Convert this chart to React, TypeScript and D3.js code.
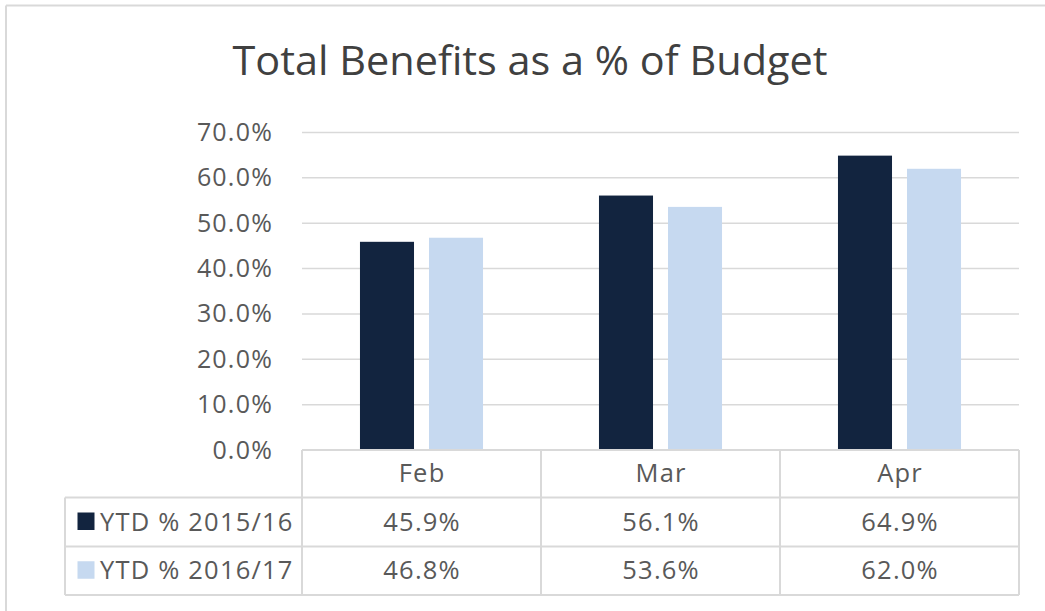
import React from "react";
import * as d3 from "d3";

const categories = ["Feb", "Mar", "Apr"];
const seriesNames = ["YTD % 2015/16", "YTD % 2016/17"];
const ytd2015 = [45.9, 56.1, 64.9];
const ytd2016 = [46.8, 53.6, 62.0];
const yTicks = [0, 10, 20, 30, 40, 50, 60, 70];
const seriesColors = ["#12243F", "#C6D9F0"];

const W = 1045;
const H = 611;
const FONT = "'Open Sans', 'Noto Sans', sans-serif";

export default function App() {
  const seriesValues = [ytd2015, ytd2016];
  const x0 = d3.scaleBand<string>().domain(categories).range([302, 1019]);
  const x1 = d3
    .scaleBand<string>()
    .domain(seriesNames)
    .range([0, x0.bandwidth()])
    .paddingInner(0.217)
    .paddingOuter(0.84);
  const y = d3.scaleLinear().domain([0, 70]).range([450, 132.5]);
  const fmt = (v: number) => v.toFixed(1) + "%";

  const tableLeft = 65;
  const tableRight = 1019;
  const rowTop = [450, 497.5, 546.5, 595];
  const grid = "#D9D9D9";
  const textColor = "#595959";
  const tableFont = 25.5;
  const ls = 1.2;

  return (
    <svg
      width={W}
      height={H}
      style={{ position: "absolute", left: 0, top: 0, background: "#fff" }}
      fontFamily={FONT}
    >
      <rect x={0} y={0} width={W} height={H} fill="#fff" />
      {/* outer chart border */}
      <line x1={6} y1={5.5} x2={W + 5} y2={5.5} stroke={grid} strokeWidth={2} />
      <line x1={6} y1={5.5} x2={6} y2={H + 5} stroke={grid} strokeWidth={2} />

      {/* title */}
      <text
        x={530}
        y={75}
        textAnchor="middle"
        fontSize={40}
        fill="#404040"
        textLength={595}
        lengthAdjust="spacingAndGlyphs"
      >
        Total Benefits as a % of Budget
      </text>

      {/* gridlines */}
      {yTicks.map((t) =>
        t === 0 ? null : (
          <line
            key={"g" + t}
            x1={302}
            x2={1019}
            y1={y(t)}
            y2={y(t)}
            stroke={grid}
            strokeWidth={1.5}
          />
        )
      )}
      {/* y labels */}
      {yTicks.map((t) => (
        <text
          key={"yl" + t}
          x={273}
          y={y(t) + 8.5}
          textAnchor="end"
          fontSize={25}
          letterSpacing={ls}
          fill={textColor}
        >
          {fmt(t)}
        </text>
      ))}

      {/* bars */}
      {categories.map((c, i) =>
        seriesNames.map((s, j) => (
          <rect
            key={c + s}
            x={(x0(c) ?? 0) + (x1(s) ?? 0)}
            y={y(seriesValues[j][i])}
            width={x1.bandwidth()}
            height={y(0) - y(seriesValues[j][i])}
            fill={seriesColors[j]}
          />
        ))
      )}

      {/* data table lines */}
      <line x1={302} x2={tableRight} y1={rowTop[0]} y2={rowTop[0]} stroke={grid} strokeWidth={2} />
      {rowTop.slice(1).map((ry, k) => (
        <line key={"r" + k} x1={tableLeft} x2={tableRight} y1={ry} y2={ry} stroke={grid} strokeWidth={2} />
      ))}
      <line x1={tableLeft} x2={tableLeft} y1={rowTop[1]} y2={rowTop[3]} stroke={grid} strokeWidth={2} />
      {categories.map((c) => (
        <line
          key={"v" + c}
          x1={x0(c) ?? 0}
          x2={x0(c) ?? 0}
          y1={rowTop[0]}
          y2={rowTop[3]}
          stroke={grid}
          strokeWidth={2}
        />
      ))}
      <line x1={tableRight} x2={tableRight} y1={rowTop[0]} y2={rowTop[3]} stroke={grid} strokeWidth={2} />

      {/* category header */}
      {categories.map((c) => (
        <text
          key={"c" + c}
          x={(x0(c) ?? 0) + x0.bandwidth() / 2 + ls / 2}
          y={482}
          textAnchor="middle"
          fontSize={tableFont}
          letterSpacing={ls}
          fill={textColor}
        >
          {c}
        </text>
      ))}

      {/* series rows */}
      {seriesNames.map((s, j) => {
        const top = rowTop[j + 1];
        const bot = rowTop[j + 2];
        const mid = (top + bot) / 2;
        return (
          <g key={"row" + s}>
            <rect x={77.5} y={mid - 9.5} width={17} height={17.5} fill={seriesColors[j]} />
            <text x={100} y={mid + 8.5} fontSize={tableFont} letterSpacing={ls} fill={textColor}>
              {s}
            </text>
            {categories.map((c, i) => (
              <text
                key={s + c}
                x={(x0(c) ?? 0) + x0.bandwidth() / 2 + ls / 2}
                y={mid + 8.5}
                textAnchor="middle"
                fontSize={tableFont}
                letterSpacing={ls}
                fill={textColor}
              >
                {fmt(seriesValues[j][i])}
              </text>
            ))}
          </g>
        );
      })}
    </svg>
  );
}
